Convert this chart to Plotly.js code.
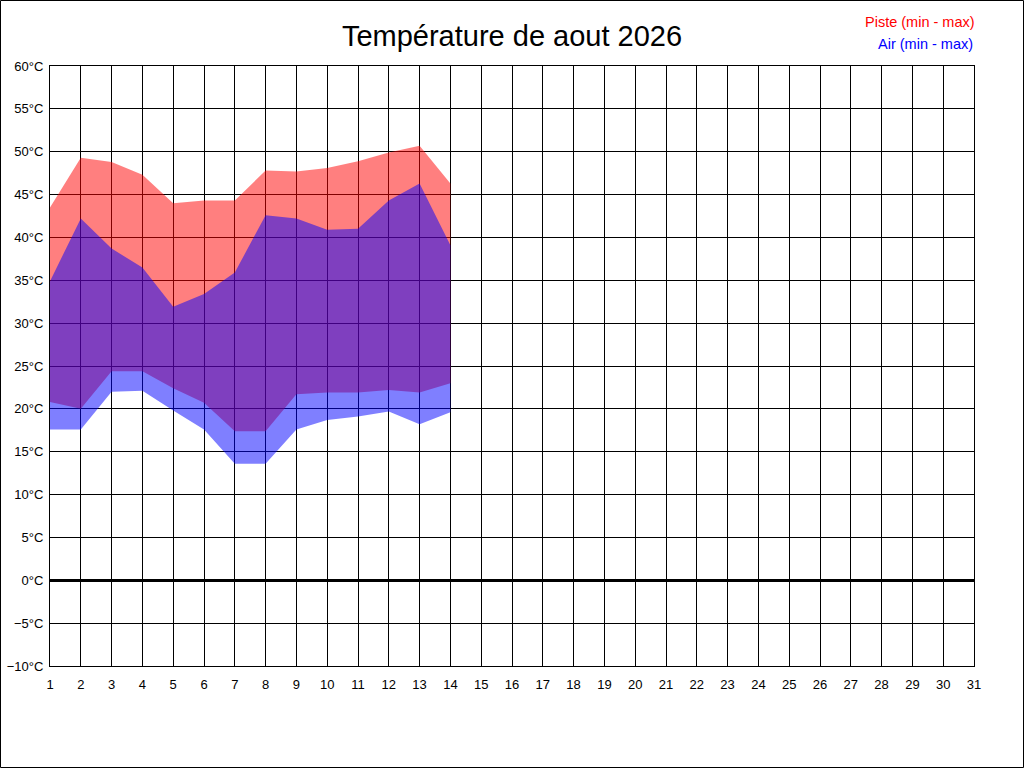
<!DOCTYPE html>
<html>
<head>
<meta charset="utf-8">
<script src="https://cdn.plot.ly/plotly-3.0.1.min.js"></script>
<style>
  body { margin: 0; background: #fff; }
  #chart { width: 1024px; height: 768px; }
</style>
</head>
<body>
<div id="chart"></div>
<script>
'use strict';

const days = [1, 2, 3, 4, 5, 6, 7, 8, 9, 10, 11, 12, 13, 14];
const pisteMin = [20.8, 20.0, 24.4, 24.4, 22.4, 20.7, 17.4, 17.4, 21.7, 21.9, 21.9, 22.2, 21.9, 23.0];
const pisteMax = [43.5, 49.3, 48.8, 47.3, 44.0, 44.3, 44.3, 47.8, 47.7, 48.1, 48.9, 49.9, 50.7, 46.3];
const airMin = [17.6, 17.6, 22.0, 22.1, 19.8, 17.6, 13.6, 13.6, 17.6, 18.7, 19.1, 19.7, 18.2, 19.6];
const airMax = [34.9, 42.2, 38.7, 36.5, 31.9, 33.4, 35.9, 42.6, 42.2, 40.9, 41.0, 44.3, 46.3, 39.1];
const dayTicks = Array.from({length: 31}, (_, i) => i + 1);

const font = 'Liberation Sans, Arial, sans-serif';

const data = [
    { x: days, y: pisteMin, mode: 'lines', line: { width: 0 }, hoverinfo: 'skip', showlegend: false },
    { x: days, y: pisteMax, mode: 'lines', line: { width: 0 }, fill: 'tonexty',
      fillcolor: 'rgba(255,0,0,0.5)', name: 'Piste', showlegend: false },
    { x: days, y: airMin, mode: 'lines', line: { width: 0 }, hoverinfo: 'skip', showlegend: false },
    { x: days, y: airMax, mode: 'lines', line: { width: 0 }, fill: 'tonexty',
      fillcolor: 'rgba(0,0,255,0.5)', name: 'Air', showlegend: false }
];

const layout = {
    width: 1024,
    height: 768,
    margin: { l: 50, r: 50, t: 66, b: 102 },
    paper_bgcolor: '#fff',
    plot_bgcolor: '#fff',
    font: { family: font, size: 13, color: '#000' },
    title: {
        text: 'Température de aout 2026',
        font: { family: font, size: 29, color: '#000' },
        x: 0.5, xanchor: 'center',
        y: 1 - 36 / 768, yanchor: 'middle'
    },
    xaxis: {
        range: [1, 31],
        tickvals: dayTicks,
        showgrid: true, gridcolor: '#000', gridwidth: 1,
        zeroline: false,
        showline: true, linecolor: '#000', linewidth: 1, mirror: true,
        ticks: '', ticklabelstandoff: 6,
        fixedrange: true
    },
    yaxis: {
        range: [-10, 60],
        dtick: 5,
        ticksuffix: '°C',
        showgrid: true, gridcolor: '#000', gridwidth: 1,
        zeroline: true, zerolinecolor: '#000', zerolinewidth: 3,
        showline: true, linecolor: '#000', linewidth: 1, mirror: true,
        ticks: '', ticklabelstandoff: 3,
        fixedrange: true
    },
    annotations: [
        { text: 'Piste (min - max)', xref: 'paper', yref: 'paper',
          x: 1 + 3 / 924, y: 1 + 44 / 600, xanchor: 'right', yanchor: 'middle',
          showarrow: false, font: { family: font, size: 14.5, color: '#f00' } },
        { text: 'Air (min - max)', xref: 'paper', yref: 'paper',
          x: 1 + 1 / 924, y: 1 + 22 / 600, xanchor: 'right', yanchor: 'middle',
          showarrow: false, font: { family: font, size: 14.5, color: '#00f' } }
    ],
    shapes: [
        { type: 'rect', xref: 'paper', yref: 'paper',
          x0: -49.5 / 924, x1: 1 + 49.5 / 924, y0: -101.5 / 600, y1: 1 + 65.5 / 600,
          line: { color: '#000', width: 1 }, fillcolor: 'rgba(0,0,0,0)', layer: 'below' }
    ],
    hovermode: false
};

Plotly.newPlot('chart', data, layout, { displayModeBar: false, staticPlot: true });
</script>
</body>
</html>
